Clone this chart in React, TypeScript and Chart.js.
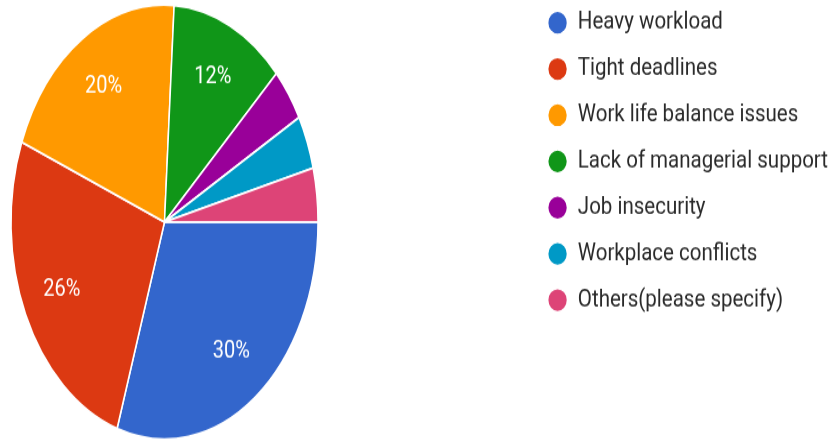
import React, { useEffect, useRef } from "react";
import { Chart, registerables } from "chart.js";

Chart.register(...registerables);

const categories = [
  "Heavy workload",
  "Tight deadlines",
  "Work life balance issues",
  "Lack of managerial support",
  "Job insecurity",
  "Workplace conflicts",
  "Others(please specify)",
];
const responses = [15, 13, 10, 6, 2, 2, 2];
const sliceColors = ["#3366CC", "#DC3912", "#FF9900", "#109618", "#990099", "#0099C6", "#DD4477"];

const CANVAS_W = 832;
const CANVAS_H = 372;
const VIEW_H = 442;

const ellipsePie = {
  id: "ellipsePie",
  beforeDatasetsDraw(chart: any, _args: any, opts: any) {
    const arc = chart.getDatasetMeta(0).data[0];
    if (!arc) return;
    const ctx = chart.ctx;
    ctx.save();
    ctx.translate(opts.cx, opts.cy);
    ctx.scale(1, opts.stretch);
    ctx.translate(-arc.x, -arc.y);
  },
  afterDatasetsDraw(chart: any, _args: any, opts: any) {
    const ctx = chart.ctx;
    ctx.restore();
    const meta = chart.getDatasetMeta(0);
    const data: number[] = chart.data.datasets[0].data;
    const total = data.reduce((a, b) => a + b, 0);
    ctx.save();
    ctx.font = opts.font;
    ctx.fillStyle = opts.color;
    ctx.textAlign = "center";
    ctx.textBaseline = "middle";
    meta.data.forEach((arc: any, i: number) => {
      const pct = (data[i] / total) * 100;
      if (pct < opts.minPct) return;
      const { startAngle, endAngle, outerRadius } = arc.getProps(
        ["startAngle", "endAngle", "outerRadius"],
        true
      );
      const mid = (startAngle + endAngle) / 2;
      const r = outerRadius * opts.labelRadius;
      const x = opts.cx + r * Math.cos(mid);
      const y = opts.cy + opts.stretch * r * Math.sin(mid);
      ctx.fillText(`${Math.round(pct)}%`, x, y);
    });
    ctx.restore();
  },
};

export default function App() {
  const ref = useRef<HTMLCanvasElement | null>(null);

  useEffect(() => {
    document.body.style.margin = "0";
    const canvas = ref.current;
    if (!canvas) return;
    const chart = new Chart(canvas, {
      type: "pie",
      data: {
        labels: categories,
        datasets: [
          {
            data: responses,
            backgroundColor: sliceColors,
            borderColor: "#ffffff",
            borderWidth: 1.5,
            radius: 153.5,
          } as any,
        ],
      },
      options: {
        responsive: false,
        animation: false,
        devicePixelRatio: 1,
        rotation: 90,
        layout: { padding: { top: -9.5, right: -6, left: 0, bottom: 0 } },
        plugins: {
          legend: {
            position: "right",
            align: "start",
            labels: {
              usePointStyle: true,
              pointStyle: "circle",
              boxWidth: 20,
              boxHeight: 14,
              padding: 18.4,
              color: "#2a2a2a",
              textAlign: "left",
              font: { family: "Roboto", size: 20.5 },
            },
          },
          tooltip: { enabled: false },
          ellipsePie: {
            cx: 164.5,
            cy: 186.9,
            stretch: 1.19,
            labelRadius: 0.74,
            minPct: 5,
            font: "20px Roboto",
            color: "#ffffff",
          },
        } as any,
      },
      plugins: [ellipsePie as any],
    });
    return () => chart.destroy();
  }, []);

  return (
    <canvas
      ref={ref}
      width={CANVAS_W}
      height={CANVAS_H}
      style={{ display: "block", width: `${CANVAS_W}px`, height: `${VIEW_H}px` }}
    />
  );
}
